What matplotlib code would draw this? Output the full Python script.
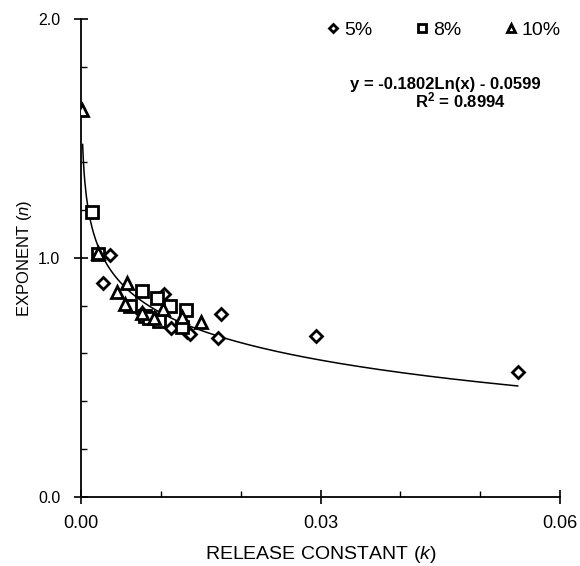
import numpy as np
import matplotlib
matplotlib.use('Agg')
import matplotlib.pyplot as plt
from matplotlib.ticker import MultipleLocator, FormatStrFormatter

plt.rcParams['font.family'] = ['Liberation Sans', 'DejaVu Sans']
plt.rcParams['mathtext.fontset'] = 'custom'
plt.rcParams['mathtext.rm'] = 'Liberation Sans'
plt.rcParams['mathtext.it'] = 'Liberation Sans:italic'
plt.rcParams['mathtext.bf'] = 'Liberation Sans:bold'

# ===== DATA =====
k_5 = [0.0036, 0.0028, 0.0104, 0.0076, 0.0113, 0.0133, 0.0136, 0.0175, 0.0171, 0.0294, 0.0547]
n_5 = [1.010, 0.895, 0.847, 0.770, 0.705, 0.690, 0.680, 0.765, 0.663, 0.674, 0.521]

k_8 = [0.0014, 0.0021, 0.0061, 0.0077, 0.0080, 0.0085, 0.0095, 0.0098, 0.0112, 0.0131, 0.0127]
n_8 = [1.190, 1.015, 0.800, 0.860, 0.755, 0.750, 0.830, 0.735, 0.800, 0.782, 0.710]

k_10 = [0.0001, 0.0021, 0.0045, 0.0055, 0.0057, 0.0076, 0.0092, 0.0103, 0.0127, 0.0150]
n_10 = [1.620, 1.020, 0.858, 0.805, 0.896, 0.770, 0.747, 0.787, 0.754, 0.730]

# fit: y = a*ln(x) + b
fit_a = -0.1802
fit_b = -0.0599
fit_r2 = 0.8994
fit_range = (0.0002, 0.0547)

# ===== FIGURE =====
fig = plt.figure(figsize=(5.8, 5.66), dpi=100)
ax = fig.add_axes([0.1397, 0.1224, 0.8258, 0.844])

xf = np.linspace(fit_range[0], fit_range[1], 600)
ax.plot(xf, fit_a * np.log(xf) + fit_b, color='black', linewidth=1.1, zorder=2)

mk = dict(linestyle='none', markerfacecolor='white', markeredgecolor='black',
          markeredgewidth=2.0, zorder=3)
ax.plot(k_5, n_5, marker='D', markersize=6.5, label='5%', **mk)
ax.plot(k_8, n_8, marker='s', markersize=8.0, label='8%', **mk)
ax.plot(k_10, n_10, marker='^', markersize=8.5, label='10%', **mk)

ax.set_xlim(0, 0.06)
ax.set_ylim(0, 2.0)
ax.xaxis.set_major_locator(MultipleLocator(0.03))
ax.xaxis.set_minor_locator(MultipleLocator(0.01))
ax.yaxis.set_major_locator(MultipleLocator(1.0))
ax.yaxis.set_minor_locator(MultipleLocator(0.2))
ax.xaxis.set_major_formatter(FormatStrFormatter('%.2f'))
ax.yaxis.set_major_formatter(FormatStrFormatter('%.1f'))

for s in ['top', 'right']:
    ax.spines[s].set_visible(False)
for s in ['left', 'bottom']:
    ax.spines[s].set_linewidth(1.3)

ax.tick_params(axis='both', which='major', direction='inout', length=10, width=1.2)
ax.tick_params(axis='both', which='minor', direction='in', length=4, width=1.0)
ax.tick_params(axis='x', which='major', labelsize=13, pad=8)
ax.tick_params(axis='y', which='major', labelsize=11.5, pad=10)

ax.set_xlabel('RELEASE CONSTANT ($k$)', fontsize=14, labelpad=9)
ax.set_ylabel('EXPONENT ($n$)', fontsize=12)
ax.yaxis.set_label_coords(-0.098, 0.5)

ax.legend(loc='upper right', bbox_to_anchor=(1.017, 1.012), ncol=3, frameon=False,
          fontsize=14, markerscale=0.7, handlelength=0.5, handletextpad=0.3,
          columnspacing=2.3, borderaxespad=0.0)

ax.text(0.761, 0.862, 'y = %.4fLn(x) - %.4f' % (fit_a, -fit_b),
        transform=ax.transAxes, ha='center', va='center', fontsize=12,
        fontweight='bold')
ax.text(0.791, 0.829, r'R$^\mathbf{2}$ = %.4f' % fit_r2,
        transform=ax.transAxes, ha='center', va='center', fontsize=12,
        fontweight='bold')

plt.savefig('out.png', dpi=100)
